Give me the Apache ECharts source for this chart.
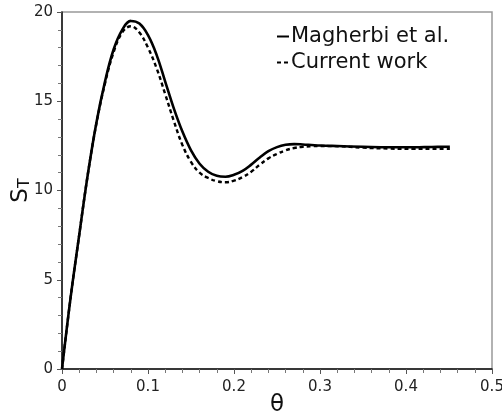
<!DOCTYPE html>
<html>
<head>
<meta charset="utf-8">
<script src="https://cdn.jsdelivr.net/npm/echarts@6/dist/echarts.min.js"></script>
<style>html,body{margin:0;padding:0;background:#fff;}#c{width:502px;height:416px;}</style>
</head>
<body>
<div id="c"></div>
<script>
const xTicks = ['0', '0.1', '0.2', '0.3', '0.4', '0.5'];
const yTicks = ['0', '5', '10', '15', '20'];
const seriesNames = ['Magherbi et al.', 'Current work'];

const thetaValues = [0, 0.01, 0.02, 0.03, 0.04, 0.05, 0.06, 0.07, 0.08, 0.09, 0.10, 0.11, 0.12, 0.13, 0.14, 0.15, 0.16, 0.17, 0.18, 0.19, 0.20, 0.21, 0.22, 0.23, 0.24, 0.25, 0.26, 0.27, 0.28, 0.29, 0.30, 0.32, 0.35, 0.38, 0.41, 0.43, 0.451];
const magherbiS = [0, 4.0, 7.5, 10.9, 13.8, 16.1, 17.9, 19.0, 19.5, 19.35, 18.7, 17.6, 16.1, 14.6, 13.3, 12.25, 11.5, 11.05, 10.82, 10.77, 10.88, 11.1, 11.45, 11.85, 12.2, 12.43, 12.56, 12.6, 12.58, 12.55, 12.52, 12.49, 12.45, 12.42, 12.42, 12.44, 12.45];
const currentS = [0, 4.0, 7.5, 10.9, 13.75, 16.0, 17.75, 18.85, 19.2, 18.85, 18.0, 16.85, 15.4, 13.9, 12.55, 11.6, 11.0, 10.7, 10.52, 10.46, 10.55, 10.75, 11.05, 11.45, 11.8, 12.05, 12.25, 12.38, 12.45, 12.48, 12.49, 12.48, 12.4, 12.35, 12.33, 12.33, 12.33];

const zip = (a, b) => a.map((v, i) => [v, b[i]]);
const FONT = 'DejaVu Sans';

const chart = echarts.init(document.getElementById('c'));
chart.setOption({
  animation: false,
  backgroundColor: '#fff',
  textStyle: { fontFamily: FONT },
  grid: { left: 62, right: 10, top: 12, bottom: 47, show: true, borderColor: '#999', borderWidth: 1.5,
    containLabel: false, outerBoundsMode: 'none' },
  legend: {
    orient: 'vertical', left: 271, top: 21, itemWidth: 12, itemHeight: 12, itemGap: 5,
    data: seriesNames,
    itemStyle: { opacity: 0 },
    textStyle: { fontFamily: FONT, fontSize: 21, color: '#111', padding: [0, 0, 0, -3] }
  },
  xAxis: {
    type: 'value', min: 0, max: 0.5, interval: 0.1,
    name: 'θ', nameLocation: 'middle', nameGap: 25, nameMoveOverlap: false,
    nameTextStyle: { fontFamily: FONT, fontSize: 23, color: '#111' },
    axisLine: { lineStyle: { color: '#111', width: 1.5 } },
    axisTick: { show: true, length: 5, lineStyle: { color: '#555' } },
    minorTick: { show: true, splitNumber: 5, length: 4, lineStyle: { color: '#777' } },
    splitLine: { show: false },
    axisLabel: { fontFamily: FONT, fontSize: 15, color: '#222', margin: 11,
      formatter: (v) => xTicks[Math.round(v * 10)] }
  },
  yAxis: {
    type: 'value', min: 0, max: 20, interval: 5,
    name: '{s|S}{t|T}', nameLocation: 'middle', nameGap: 29, nameMoveOverlap: false,
    nameTextStyle: { fontFamily: FONT, color: '#111',
      rich: { s: { fontSize: 23, fontFamily: FONT, color: '#111' }, t: { fontSize: 16, fontFamily: FONT, color: '#111', padding: [8, 0, 0, 0] } } },
    axisLine: { show: true, lineStyle: { color: '#111', width: 1.5 } },
    axisTick: { show: true, length: 5, lineStyle: { color: '#555' } },
    minorTick: { show: true, splitNumber: 5, length: 4, lineStyle: { color: '#777' } },
    splitLine: { show: false },
    axisLabel: { fontFamily: FONT, fontSize: 15, color: '#222', margin: 9,
      formatter: (v) => yTicks[Math.round(v / 5)] }
  },
  series: [
    { name: seriesNames[0], type: 'line', data: zip(thetaValues, magherbiS), smooth: 0.4, symbol: 'none',
      lineStyle: { color: '#000', width: 2.6, type: 'solid' }, itemStyle: { color: '#000' } },
    { name: seriesNames[1], type: 'line', data: zip(thetaValues, currentS), smooth: 0.4, symbol: 'none',
      lineStyle: { color: '#000', width: 2.4, type: [4, 3] }, itemStyle: { color: '#000' } }
  ]
});
</script>
</body>
</html>
